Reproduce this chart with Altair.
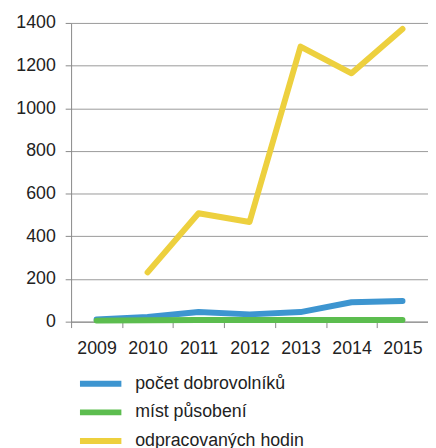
import altair as alt
import pandas as pd

years = ["2009", "2010", "2011", "2012", "2013", "2014", "2015"]
series_names = ["počet dobrovolníků", "míst působení", "odpracovaných hodin"]
volunteers = [10, 22, 45, 34, 45, 91, 97]
places = [5, 7, 8, 8, 8, 8, 8]
hours = [None, 231, 508, 467, 1289, 1164, 1372]
colors = ["#3d95d0", "#5cbd4f", "#edd03e"]

rows = []
for name, vals in zip(series_names, [volunteers, places, hours]):
    for y, v in zip(years, vals):
        if v is not None:
            rows.append({"year": y, "series": name, "value": v})
df = pd.DataFrame(rows)

chart = alt.Chart(df).mark_line(strokeWidth=6, strokeCap="round", strokeJoin="round").encode(
    x=alt.X("year:O", bandPosition=0.5,
            scale=alt.Scale(type="band", paddingInner=0, paddingOuter=0),
            axis=alt.Axis(title=None, labelAngle=0, tickBand="extent", labelFontSize=18,
                          labelColor="#222", labelFont="Liberation Sans", domainColor="#888",
                          tickColor="#888", tickSize=6, labelPadding=12, grid=False)),
    y=alt.Y("value:Q", scale=alt.Scale(domain=[0, 1400], nice=False),
            axis=alt.Axis(title=None, values=list(range(0, 1401, 200)), format="d", labelFontSize=18,
                          labelColor="#222", labelFont="Liberation Sans", domainColor="#888",
                          tickColor="#888", tickSize=6, gridColor="#999", labelPadding=10)),
    color=alt.Color("series:N", sort=series_names,
                    scale=alt.Scale(domain=series_names, range=colors),
                    legend=alt.Legend(title=None, orient="none", legendX=6, legendY=356,
                                      symbolType="M-1,0H5", symbolSize=196, symbolStrokeWidth=6,
                                      labelFontSize=18, labelFont="Liberation Sans", labelColor="#222",
                                      labelLimit=400,
                                      rowPadding=5, labelOffset=39, direction="vertical")),
    detail="series:N",
).properties(
    width=362, height=303,
    autosize=alt.AutoSizeParams(type="none"),
    padding={"left": 64, "top": 12, "right": 0, "bottom": 125},
).configure_view(stroke=None).configure_axis(gridWidth=1)

chart.save("out.html", embed_options={"renderer": "svg", "actions": False})
